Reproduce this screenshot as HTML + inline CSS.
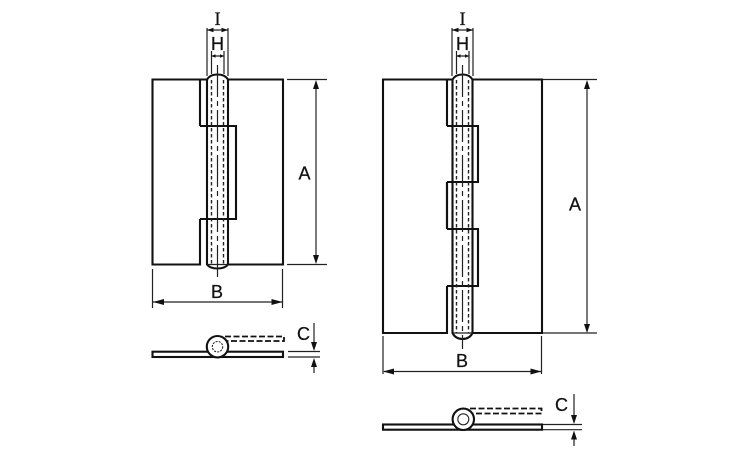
<!DOCTYPE html>
<html><head><meta charset="utf-8"><style>
html,body{margin:0;padding:0;background:#fff;width:750px;height:450px;overflow:hidden}
svg{display:block}
text{font-family:"Liberation Sans",sans-serif;font-size:18px;fill:#111;text-anchor:middle;stroke:#111;stroke-width:.25}
text.s{font-family:"Liberation Serif",serif;font-size:19px}
.o{fill:none;stroke:#111;stroke-width:2.1}
.w{fill:#fff;stroke:#111;stroke-width:2.1}
.t{fill:none;stroke:#222;stroke-width:1.2}
.d{fill:none;stroke:#222;stroke-width:1.4;stroke-dasharray:3.5 2.5}
.c{fill:none;stroke:#222;stroke-width:1.2;stroke-dasharray:32 4 5 4}
.h{fill:none;stroke:#111;stroke-width:1.8;stroke-dasharray:6 2.5}
.a{fill:#111;stroke:none}
</style></head><body>
<svg width="750" height="450" viewBox="0 0 750 450" xmlns="http://www.w3.org/2000/svg">
<!-- LEFT HINGE front -->
<path class="o" d="M207,79.500H152.500V264.500H200V219M200,126V79.500"/>
<path class="o" d="M228,79.500H283V264.500H228"/>
<path class="w" d="M207,264.500V79.500Q210,74.500 217.500,74.500Q225,74.500 228,79.500V264.500Q225,268.500 217.500,268.500Q210,268.500 207,264.500Z"/>
<path class="t" d="M207,264.500H228"/>
<path class="o" d="M200,126H236V219H200"/>
<line class="d" x1="211.500" y1="80" x2="211.500" y2="264"/>
<line class="d" x1="223.500" y1="80" x2="223.500" y2="264"/>
<line class="c" x1="217.500" y1="65" x2="217.500" y2="280"/>
<!-- dims I H left -->
<path class="t" d="M207,28V76M228,28V76M211.500,51V74M224,51V74"/>
<path class="t" d="M207,30H228M211.500,56H224"/>
<path class="a" d="M207,30l6.500,-2.200v4.400zM228,30l-6.500,-2.200v4.400zM211.500,56l4,-1.700v3.400zM224,56l-4,-1.700v3.400z"/>
<!-- dim A left -->
<path class="t" d="M287,79.500H327M287,264.500H327M316,85V259"/>
<path class="a" d="M316,80l-3,9h6zM316,264l-3,-9h6z"/>
<!-- dim B left -->
<path class="t" d="M152.500,269V308M282.500,269V308M153,302H282"/>
<path class="a" d="M153,302l11,-3v6zM282.500,302l-11,-3v6z"/>
<!-- LEFT side view -->
<rect class="o" x="152.500" y="351.700" width="130.500" height="5.300"/>
<path class="h" d="M225,336.500H284V341H225"/>
<circle class="w" cx="217.500" cy="346.700" r="10.700"/>
<circle cx="217.500" cy="346.700" r="5.200" fill="none" stroke="#222" stroke-width="1.100" stroke-dasharray="2 1.200"/>
<!-- dim C left -->
<path class="t" d="M288,351.500H320M288,357H320M314,323V346M314,362V373"/>
<path class="a" d="M314,351l-3,-9h6zM314,358l-3,9h6z"/>
<!-- RIGHT HINGE front -->
<path class="o" d="M452,79.500H383V333H447V286M447,229V182M447,126V79.500"/>
<path class="o" d="M473,79.500H542V333H473"/>
<path class="w" d="M452.500,333V79.500Q455.500,74.500 462.500,74.500Q469.500,74.500 472.500,79.500V333Q469.500,339 462.500,339Q455.500,339 452.500,333Z"/>
<path class="t" d="M452.500,333H472.500"/>
<path class="o" d="M447,126H478V182H447M447,229H478V286H447"/>
<path class="o" d="M447,182V229"/>
<line class="d" x1="456.500" y1="80" x2="456.500" y2="333"/>
<line class="d" x1="468.500" y1="80" x2="468.500" y2="333"/>
<line class="c" x1="462.500" y1="65" x2="462.500" y2="349"/>
<!-- dims I H right -->
<path class="t" d="M452,28V76M473,28V76M456.500,51V74M469,51V74"/>
<path class="t" d="M452,30H473M456.500,56H469"/>
<path class="a" d="M452,30l6.500,-2.200v4.400zM473,30l-6.500,-2.200v4.400zM456.500,56l4,-1.700v3.400zM469,56l-4,-1.700v3.400z"/>
<!-- dim A right -->
<path class="t" d="M543,79.500H597M543,333H597M587,85V327"/>
<path class="a" d="M587,80l-3,9h6zM587,333l-3,-9h6z"/>
<!-- dim B right -->
<path class="t" d="M383,336V374M541.500,336V374M384,371.500H541"/>
<path class="a" d="M383,371.500l11,-3v6zM541.500,371.500l-11,-3v6z"/>
<!-- RIGHT side view -->
<rect class="o" x="383" y="424.500" width="159" height="5.200"/>
<path class="h" d="M470,408.500H541.500V413.500H470"/>
<circle class="w" cx="463.300" cy="419.300" r="10.700"/>
<circle cx="463.300" cy="419.300" r="5.500" fill="none" stroke="#222" stroke-width="1.100"/>
<!-- dim C right -->
<path class="t" d="M543,424.500H582M543,429.700H582M574,394V420M574,434V446"/>
<path class="a" d="M574,424l-3,-9h6zM574,430.500l-3,9h6z"/>
<!-- labels -->
<text class="s" x="217.500" y="25">I</text>
<text x="217.500" y="50">H</text>
<text x="304.500" y="179.500">A</text>
<text x="217" y="298">B</text>
<text x="303.500" y="340">C</text>
<text class="s" x="462.500" y="25">I</text>
<text x="462.500" y="50">H</text>
<text x="575" y="210.500">A</text>
<text x="462" y="367">B</text>
<text x="561.500" y="411">C</text>
</svg>
</body></html>
